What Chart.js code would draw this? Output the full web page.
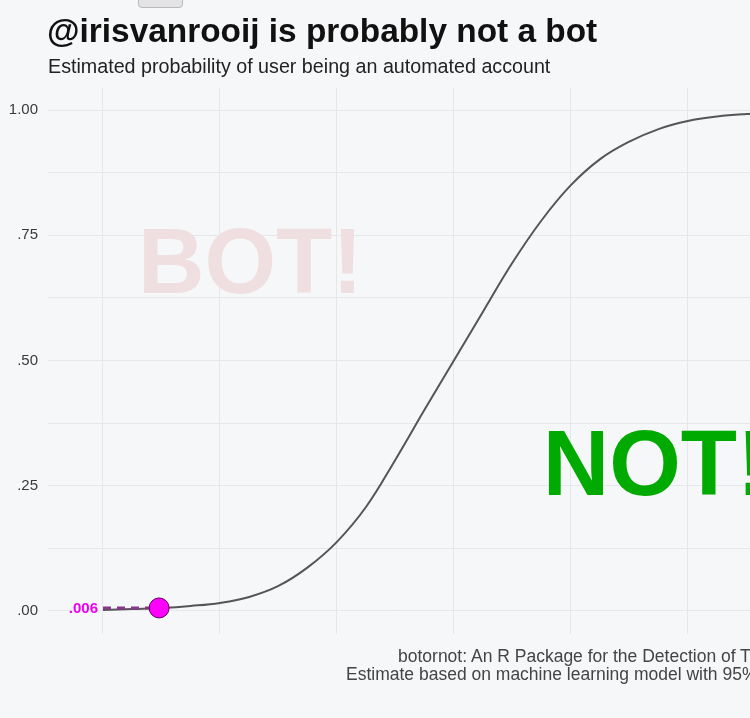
<!DOCTYPE html>
<html>
<head>
<meta charset="utf-8">
<script src="https://cdn.jsdelivr.net/npm/chart.js@4"></script>
<style>
  html, body { margin: 0; padding: 0; }
  body {
    width: 750px; height: 718px; overflow: hidden; position: relative;
    background: #f6f7f9;
    font-family: "Liberation Sans", Arial, Helvetica, sans-serif;
  }
  #grafico { position: absolute; left: 0; top: 0; }
  .texto { position: absolute; white-space: nowrap; }
  #titulo { left: 47px; top: 12px; font-size: 33.4px; font-weight: bold; color: #111; }
  #subtitulo { left: 48px; top: 55px; font-size: 19.7px; color: #222; }
  .pie { font-size: 17.5px; color: #444; }
  #pie1 { left: 398px; top: 646px; }
  #pie2 { left: 346px; top: 664px; }
  #boton {
    position: absolute; left: 138px; top: -6px; width: 43px; height: 12px;
    background: #e4e4e6; border: 1px solid #b9b9bc; border-radius: 4px;
  }
</style>
</head>
<body>
<div id="boton"></div>
<!-- el lienzo es mas ancho que la ventana: el grafico original esta cortado a la derecha -->
<canvas id="grafico" width="762" height="718"></canvas>
<div class="texto" id="titulo">@irisvanrooij is probably not a bot</div>
<div class="texto" id="subtitulo">Estimated probability of user being an automated account</div>
<div class="texto pie" id="pie1">botornot: An R Package for the Detection of Twitter Bots</div>
<div class="texto pie" id="pie2">Estimate based on machine learning model with 95% accuracy</div>

<script>
// posicion en el eje x (sin etiquetas) y probabilidad
const curvaX = [0, 0.25, 0.5, 0.75, 1, 1.25, 1.5, 1.75, 2, 2.25, 2.5, 2.75,
                3, 3.25, 3.5, 3.75, 4, 4.25, 4.5, 4.75, 5, 5.25, 5.5, 5.75];
const curvaProb = [0.002, 0.004, 0.006, 0.010, 0.016, 0.028, 0.050, 0.087, 0.138, 0.208, 0.302, 0.402,
                   0.500, 0.598, 0.695, 0.780, 0.850, 0.902, 0.937, 0.962, 0.978, 0.987, 0.992, 0.995];

// estimacion del usuario
const usuarioX = [0.48];
const usuarioProb = [0.006];
const usuarioEtiqueta = ['.006'];

// etiquetas del eje y
const ticksY = [0, 0.25, 0.5, 0.75, 1];

const ctx = document.getElementById('grafico').getContext('2d');

// textos grandes BOT! / NOT! y la etiqueta del valor
const pluginTextos = {
    id: 'textos',
    beforeDatasetsDraw(chart) {
        const c = chart.ctx;
        const x = chart.scales.x, y = chart.scales.y;
        c.save();
        c.font = 'bold 92px "Liberation Sans", Arial, sans-serif';
        c.textAlign = 'left';
        c.textBaseline = 'alphabetic';
        c.fillStyle = '#efdfe0';
        c.fillText('BOT!', x.getPixelForValue(0.30), y.getPixelForValue(0.634));
        c.fillStyle = '#00aa00';
        c.fillText('NOT!', x.getPixelForValue(3.76), y.getPixelForValue(0.232));
        c.restore();
    },
    afterDatasetsDraw(chart) {
        const c = chart.ctx;
        const x = chart.scales.x, y = chart.scales.y;
        c.save();
        c.font = 'bold 15px "Liberation Sans", Arial, sans-serif';
        c.fillStyle = '#ee00ee';
        c.textAlign = 'right';
        c.textBaseline = 'middle';
        c.fillText(usuarioEtiqueta[0], x.getPixelForValue(0) - 5, y.getPixelForValue(usuarioProb[0]) + 1);
        c.restore();
    }
};

new Chart(ctx, {
    type: 'scatter',
    data: {
        datasets: [{
            label: 'usuario',
            data: usuarioX.map((v, i) => ({ x: v, y: usuarioProb[i] })),
            pointRadius: 10,
            pointBackgroundColor: '#ff00ff',
            pointBorderColor: '#5a005a',
            pointBorderWidth: 1
        }, {
            label: 'guia',
            data: [{ x: 0, y: usuarioProb[0] }, { x: usuarioX[0], y: usuarioProb[0] }],
            showLine: true,
            pointRadius: 0,
            borderColor: '#86398a',
            borderWidth: 3,
            borderDash: [8, 6]
        }, {
            label: 'probabilidad',
            data: curvaX.map((v, i) => ({ x: v, y: curvaProb[i] })),
            showLine: true,
            pointRadius: 0,
            borderColor: '#555555',
            borderWidth: 2,
            tension: 0.4
        }]
    },
    options: {
        responsive: false,
        animation: false,
        layout: { padding: { top: 88, bottom: 84, left: 0, right: 0 } },
        plugins: {
            legend: { display: false },
            tooltip: { enabled: false }
        },
        scales: {
            x: {
                type: 'linear',
                min: -0.47,
                max: 5.54,
                border: { display: false },
                grid: { color: '#e6e7ea', lineWidth: 1, drawTicks: false },
                ticks: { stepSize: 1, includeBounds: false, display: false },
                afterFit: function (scale) { scale.height = 0; }
            },
            y: {
                min: -0.046,
                max: 1.044,
                border: { display: false },
                grid: { color: '#e6e7ea', lineWidth: 1, drawTicks: false },
                ticks: {
                    stepSize: 0.125,
                    includeBounds: false,
                    autoSkip: false,
                    padding: 10,
                    color: '#3a3a3a',
                    font: { size: 15, family: '"Liberation Sans", Arial, sans-serif' },
                    callback: function (v) {
                        const t = ticksY.find(k => Math.abs(k - v) < 1e-6);
                        return t === undefined ? '' : t.toFixed(2).replace(/^0/, '');
                    }
                },
                afterFit: function (scale) { scale.width = 48; }
            }
        }
    },
    plugins: [pluginTextos]
});
</script>
</body>
</html>
